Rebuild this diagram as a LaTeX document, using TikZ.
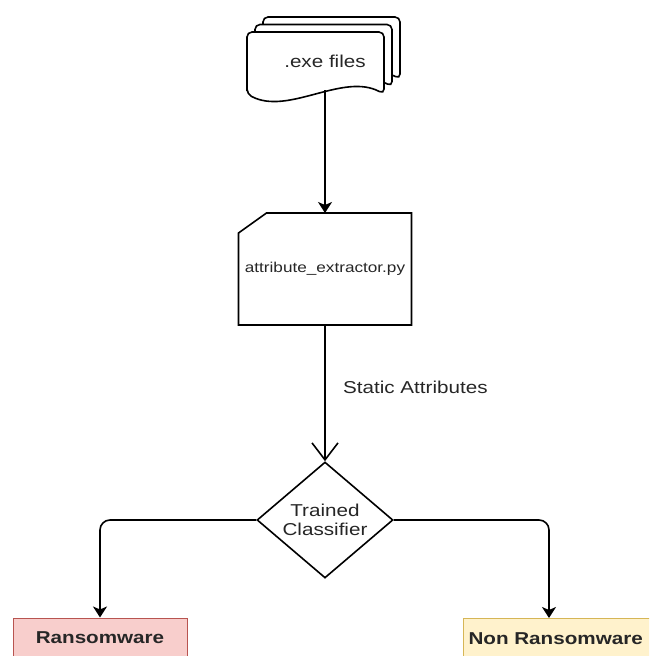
\documentclass[tikz,border=0pt]{standalone}
\usepackage{fontspec}
\setmainfont{Liberation Sans}[FakeStretch=1.2]
\usepackage{tikz}
\usetikzlibrary{arrows.meta}
\usetikzlibrary{positioning,shapes.geometric}
\definecolor{ransomfill}{HTML}{F8CECC}
\definecolor{ransomdraw}{HTML}{B85450}
\definecolor{benignfill}{HTML}{FFF2CC}
\definecolor{benigndraw}{HTML}{D6B656}
% one sheet of the .exe stack, #1 = left, #2 = top
\newcommand{\DocSheet}[2]{\draw[Sheets] (#1,#2+62) -- (#1,#2) -- (#1+137,#2) -- (#1+137,#2+62) .. controls (#1+96,#2+40) and (#1+41,#2+84) .. (#1,#2+62) -- cycle;}

\begin{document}
\begin{tikzpicture}[
x=1pt,y=-1pt,
Sheets/.style={draw=black,fill=white,line width=1.6pt,rounded corners=5pt},
Process/.style={draw=black,line width=1.6pt},
Decision/.style={diamond,draw=black,fill=white,line width=1.6pt,aspect=1.17,minimum width=136pt,minimum height=116pt,inner sep=0pt,align=center},
Flow/.style={line width=1.6pt,-{Stealth[length=11pt,width=14pt,inset=3pt]},rounded corners=10pt},
every node/.style={font=\fontsize{17.2}{19.5}\selectfont,text=black!85}
]
\useasboundingbox (0,0) rectangle (649,656);
\clip (0,0) rectangle (649,656);

% stack of files
\DocSheet{263}{17}
\DocSheet{255}{24.5}
\DocSheet{247}{32}
\node (docs) at (325,61) {.exe files};
\coordinate (docsend) at (325,90);

% extractor script
\node[minimum width=173pt,minimum height=112pt,outer sep=0pt,font=\fontsize{14.3}{17}\selectfont] (extractor) at (325,269) {attribute\_extractor.py};
\draw[Process] ([xshift=28pt]extractor.north west) -- (extractor.north east) -- (extractor.south east) -- (extractor.south west) -- ([yshift=-20pt]extractor.north west) -- cycle;

% classifier
\node[Decision] (classifier) at (325,520) {Trained\\Classifier};

% results
\node[draw=ransomdraw,fill=ransomfill,line width=1pt,minimum width=174pt,minimum height=40pt,font=\fontsize{17.2}{19.5}\selectfont\bfseries] (ransom) at (100,638) {Ransomware};
\node[draw=benigndraw,fill=benignfill,line width=1pt,anchor=north west,minimum height=40pt,inner xsep=5pt,text width=190pt,align=left,font=\fontsize{17.2}{19.5}\selectfont\bfseries] (benign) at (463,618) {Non Ransomware};

\draw[Flow] (docsend) -- (extractor.north);
\draw[line width=1.6pt,-{Straight Barb[length=17pt,width=26pt]}] (extractor.south) -- (classifier.north) node[pos=0.46,anchor=west,xshift=14pt]{Static Attributes};
\draw[Flow] (classifier.west) -| (ransom.north);
\draw[Flow] (classifier.east) -| ([xshift=86pt]benign.north west);

\end{tikzpicture}
\end{document}
